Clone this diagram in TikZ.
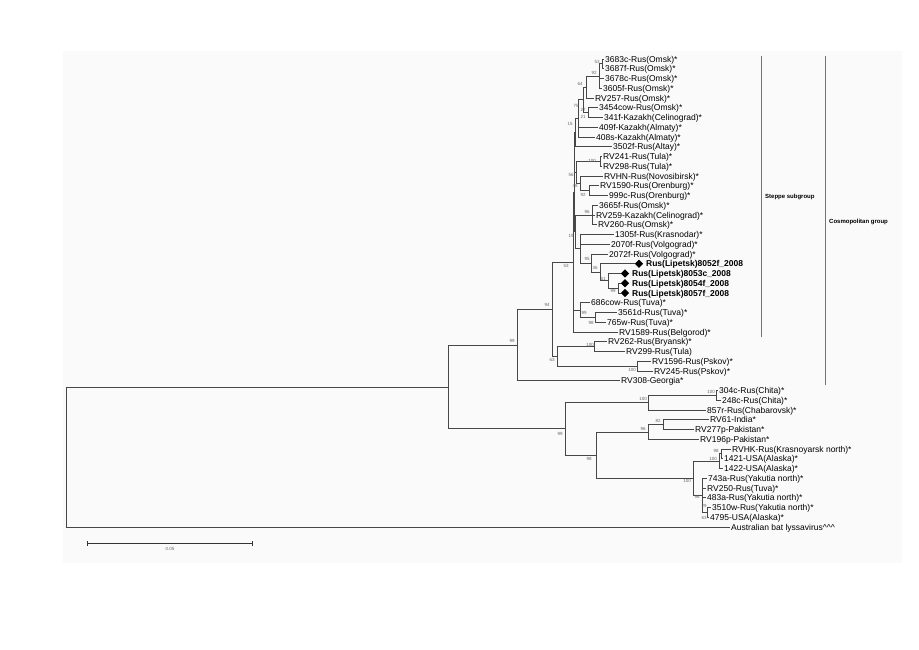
\documentclass[tikz,border=0pt]{standalone}
\usepackage{fontspec}
\setmainfont{Liberation Sans}
\usetikzlibrary{shapes.geometric}
\begin{document}
\begin{tikzpicture}[x=1pt,y=-1pt,
  br/.style={draw=black!72, line width=0.85pt},
  lf/.style={anchor=west, inner xsep=1.5pt, inner ysep=0pt, text height=6.1pt, text depth=0pt, font=\fontsize{8.5}{9}\selectfont},
  lfb/.style={lf, inner xsep=2.5pt, font=\fontsize{8.5}{9}\selectfont\bfseries},
  bs/.style={inner sep=0pt, font=\fontsize{4.5}{5}\selectfont, text=black!60},
  dia/.style={diamond, fill=black, inner sep=0pt, minimum width=8.5pt, minimum height=8.5pt},
  grp/.style={draw=black!55, line width=0.6pt},
  grl/.style={anchor=west, inner sep=0pt, font=\fontsize{6}{7}\selectfont\bfseries}
]
\useasboundingbox (0,0) rectangle (919,650);
\fill[black!2] (63,51) rectangle (902,563);

% leaves
\node[lf] (t0) at (603.5,59) {3683c-Rus(Omsk)*};
\node[lf] (t1) at (603.5,68.75) {3687f-Rus(Omsk)*};
\node[lf] (t2) at (603.5,78.5) {3678c-Rus(Omsk)*};
\node[lf] (t3) at (601.5,88.25) {3605f-Rus(Omsk)*};
\node[lf] (t4) at (593.5,98) {RV257-Rus(Omsk)*};
\node[lf] (t5) at (597.5,107.75) {3454cow-Rus(Omsk)*};
\node[lf] (t6) at (602.5,117.5) {341f-Kazakh(Celinograd)*};
\node[lf] (t7) at (597.5,127.25) {409f-Kazakh(Almaty)*};
\node[lf] (t8) at (594.5,137) {408s-Kazakh(Almaty)*};
\node[lf] (t9) at (611.5,146.75) {3502f-Rus(Altay)*};
\node[lf] (t10) at (601.5,156.5) {RV241-Rus(Tula)*};
\node[lf] (t11) at (601.5,166.25) {RV298-Rus(Tula)*};
\node[lf] (t12) at (602.5,176) {RVHN-Rus(Novosibirsk)*};
\node[lf] (t13) at (598.5,185.75) {RV1590-Rus(Orenburg)*};
\node[lf] (t14) at (607.5,195.5) {999c-Rus(Orenburg)*};
\node[lf] (t15) at (597.5,205.25) {3665f-Rus(Omsk)*};
\node[lf] (t16) at (594.5,215) {RV259-Kazakh(Celinograd)*};
\node[lf] (t17) at (596.5,224.75) {RV260-Rus(Omsk)*};
\node[lf] (t18) at (613.5,234.5) {1305f-Rus(Krasnodar)*};
\node[lf] (t19) at (609.5,244.25) {2070f-Rus(Volgograd)*};
\node[lf] (t20) at (607.5,254) {2072f-Rus(Volgograd)*};
\node[dia] (d21) at (639,263.75) {};
\node[dia] (d22) at (625,273.5) {};
\node[dia] (d23) at (625,283.25) {};
\node[dia] (d24) at (625,293) {};
\node[lfb] (t21) at (d21.east) {Rus(Lipetsk)8052f\_2008};
\node[lfb] (t22) at (d22.east) {Rus(Lipetsk)8053c\_2008};
\node[lfb] (t23) at (d23.east) {Rus(Lipetsk)8054f\_2008};
\node[lfb] (t24) at (d24.east) {Rus(Lipetsk)8057f\_2008};
\node[lf] (t25) at (589.5,302.75) {686cow-Rus(Tuva)*};
\node[lf] (t26) at (616.5,312.5) {3561d-Rus(Tuva)*};
\node[lf] (t27) at (605.5,322.25) {765w-Rus(Tuva)*};
\node[lf] (t28) at (617.5,332) {RV1589-Rus(Belgorod)*};
\node[lf] (t29) at (606.5,341.75) {RV262-Rus(Bryansk)*};
\node[lf] (t30) at (624.5,351.5) {RV299-Rus(Tula)};
\node[lf] (t31) at (650.5,361.25) {RV1596-Rus(Pskov)*};
\node[lf] (t32) at (652.5,371) {RV245-Rus(Pskov)*};
\node[lf] (t33) at (619.5,380.75) {RV308-Georgia*};
\node[lf] (t34) at (717.5,390.5) {304c-Rus(Chita)*};
\node[lf] (t35) at (720.5,400.25) {248c-Rus(Chita)*};
\node[lf] (t36) at (705.5,410) {857r-Rus(Chabarovsk)*};
\node[lf] (t37) at (708.5,419.75) {RV61-India*};
\node[lf] (t38) at (693.5,429.5) {RV277p-Pakistan*};
\node[lf] (t39) at (698.5,439.25) {RV196p-Pakistan*};
\node[lf] (t40) at (730.5,449) {RVHK-Rus(Krasnoyarsk north)*};
\node[lf] (t41) at (722.5,458.75) {1421-USA(Alaska)*};
\node[lf] (t42) at (722.5,468.5) {1422-USA(Alaska)*};
\node[lf] (t43) at (706.5,478.25) {743a-Rus(Yakutia north)*};
\node[lf] (t44) at (705.5,488) {RV250-Rus(Tuva)*};
\node[lf] (t45) at (705.5,497.75) {483a-Rus(Yakutia north)*};
\node[lf] (t46) at (710.5,507.5) {3510w-Rus(Yakutia north)*};
\node[lf] (t47) at (708.5,517.25) {4795-USA(Alaska)*};
\node[lf] (t48) at (729.5,527) {Australian bat lyssavirus\textasciicircum\textasciicircum\textasciicircum};

% internal nodes
\coordinate (n53) at (602,63.875);
\coordinate (n92) at (599,76.06);
\coordinate (n64) at (586,87.03);
\coordinate (n27) at (588,112.63);
\coordinate (n21) at (583,99.83);
\coordinate (n75) at (578,118.42);
\coordinate (n15) at (575,132.58);
\coordinate (n100t) at (600,161.38);
\coordinate (n92o) at (589,190.63);
\coordinate (nhn) at (580,183.31);
\coordinate (n56) at (576,172.34);
\coordinate (nV) at (574,152.46);
\coordinate (n96) at (592,215);
\coordinate (L3) at (618,288.13);
\coordinate (L2) at (608,280.81);
\coordinate (L1) at (600,272.28);
\coordinate (n95) at (591,263.14);
\coordinate (nv) at (580,248.82);
\coordinate (nZ) at (575,231.91);
\coordinate (nW) at (574,192.19);
\coordinate (T2) at (595,317.38);
\coordinate (T1) at (580,310.06);
\coordinate (S) at (573,262.1);
\coordinate (n100a) at (594,346.63);
\coordinate (n100b) at (637,366.13);
\coordinate (N63) at (557,356.38);
\coordinate (C) at (552,309.24);
\coordinate (B) at (517,345);
\coordinate (Q) at (716,395.38);
\coordinate (P) at (648,402.69);
\coordinate (G) at (663,424.63);
\coordinate (F) at (648,431.94);
\coordinate (J) at (721,453.88);
\coordinate (I) at (719,461.19);
\coordinate (M) at (707,512.38);
\coordinate (K) at (702,495.31);
\coordinate (H) at (693,478.25);
\coordinate (E) at (596,455.09);
\coordinate (D) at (565,428.89);
\coordinate (A) at (448,386.95);
\coordinate (R) at (66,456.97);

% branches
\draw[br] (n53) |- (t0.west) (n53) |- (t1.west);
\draw[br] (n92) |- (n53) (n92) |- (t2.west) (n92) |- (t3.west);
\draw[br] (n64) |- (n92) (n64) |- (t4.west);
\draw[br] (n27) |- (t5.west) (n27) |- (t6.west);
\draw[br] (n21) |- (n64) (n21) |- (n27);
\draw[br] (n75) |- (n21) (n75) |- (t7.west) (n75) |- (t8.west);
\draw[br] (n15) |- (n75) (n15) |- (t9.west);
\draw[br] (nV) |- (n15) (nV) |- (n56);
\draw[br] (n56) |- (n100t) (n56) |- (nhn);
\draw[br] (n100t) |- (t10.west) (n100t) |- (t11.west);
\draw[br] (nhn) |- (t12.west) (nhn) |- (n92o);
\draw[br] (n92o) |- (t13.west) (n92o) |- (t14.west);
\draw[br] (n96) |- (t15.west) (n96) |- (t16.west) (n96) |- (t17.west);
\draw[br] (nv) |- (t18.west) (nv) |- (t19.west) (nv) |- (n95);
\draw[br] (n95) |- (t20.west) (n95) |- (L1);
\draw[br] (L1) |- (d21.west) (L1) |- (L2);
\draw[br] (L2) |- (d22.west) (L2) |- (L3);
\draw[br] (L3) |- (d23.west) (L3) |- (d24.west);
\draw[br] (nZ) |- (n96) (nZ) |- (nv);
\draw[br] (nW) |- (nV) (nW) |- (nZ);
\draw[br] (T2) |- (t26.west) (T2) |- (t27.west);
\draw[br] (T1) |- (t25.west) (T1) |- (T2);
\draw[br] (S) |- (nW) (S) |- (T1) (S) |- (t28.west);
\draw[br] (n100a) |- (t29.west) (n100a) |- (t30.west);
\draw[br] (n100b) |- (t31.west) (n100b) |- (t32.west);
\draw[br] (N63) |- (n100a) (N63) |- (n100b);
\draw[br] (C) |- (S) (C) |- (N63);
\draw[br] (B) |- (C) (B) |- (t33.west);
\draw[br] (Q) |- (t34.west) (Q) |- (t35.west);
\draw[br] (P) |- (Q) (P) |- (t36.west);
\draw[br] (G) |- (t37.west) (G) |- (t38.west);
\draw[br] (F) |- (G) (F) |- (t39.west);
\draw[br] (J) |- (t40.west) (J) |- (t41.west);
\draw[br] (I) |- (J) (I) |- (t42.west);
\draw[br] (M) |- (t46.west) (M) |- (t47.west);
\draw[br] (K) |- (t43.west) (K) |- (t44.west) (K) |- (t45.west) (K) |- (M);
\draw[br] (H) |- (I) (H) |- (K);
\draw[br] (E) |- (F) (E) |- (H);
\draw[br] (D) |- (P) (D) |- (E);
\draw[br] (A) |- (B) (A) |- (D);
\draw[br] (R) |- (A) (R) |- (t48.west);

% bootstrap values
\node[bs] (b1) at (597,62) {53};
\node[bs] (b2) at (594,73) {92};
\node[bs] (b3) at (580,84) {64};
\node[bs] (b4) at (583,110) {27};
\node[bs] (b5) at (583,117) {21};
\node[bs] (b6) at (576,106) {75};
\node[bs] (b7) at (570,124) {15};
\node[bs] (b8) at (592,161) {100};
\node[bs] (b9) at (571,175) {56};
\node[bs] (b10) at (575,186) {48};
\node[bs] (b11) at (583,195) {92};
\node[bs] (b12) at (587,212) {96};
\node[bs] (b13) at (571,236) {19};
\node[bs] (b14) at (566,266) {53};
\node[bs] (b15) at (587,259) {95};
\node[bs] (b16) at (595,268) {36};
\node[bs] (b17) at (603,279) {61};
\node[bs] (b18) at (613,291) {99};
\node[bs] (b19) at (584,313) {99};
\node[bs] (b20) at (591,323) {98};
\node[bs] (b21) at (552,360) {63};
\node[bs] (b22) at (590,345) {100};
\node[bs] (b23) at (632,370) {100};
\node[bs] (b24) at (547,305) {94};
\node[bs] (b25) at (512,341) {99};
\node[bs] (b26) at (560,434) {99};
\node[bs] (b27) at (643,399) {100};
\node[bs] (b28) at (711,392) {100};
\node[bs] (b29) at (643,429) {96};
\node[bs] (b30) at (658,421) {82};
\node[bs] (b31) at (589,459) {98};
\node[bs] (b32) at (687,481) {100};
\node[bs] (b33) at (713,459) {100};
\node[bs] (b34) at (716,451) {98};
\node[bs] (b35) at (697,497) {96};
\node[bs] (b36) at (704,506) {29};
\node[bs] (b37) at (704,518) {63};

% group bars
\coordinate (sgT) at (761,56);
\coordinate (sgB) at (761,337);
\draw[grp] (sgT) -- (sgB);
\node[grl] (sgl) at (765,197) {Steppe subgroup};
\coordinate (cgT) at (825,56);
\coordinate (cgB) at (825,385);
\draw[grp] (cgT) -- (cgB);
\node[grl] (cgl) at (829,222) {Cosmopolitan group};

% scale bar
\coordinate (sb1) at (87,543);
\coordinate (sb2) at (252,543);
\draw[black!80, line width=0.9pt] (sb1) -- (sb2);
\draw[black!80, line width=0.9pt] ([yshift=-2.5pt]sb1) -- ([yshift=2.5pt]sb1);
\draw[black!80, line width=0.9pt] ([yshift=-2.5pt]sb2) -- ([yshift=2.5pt]sb2);
\node[bs] (sbl) at (170,549) {0.05};
\end{tikzpicture}
\end{document}
